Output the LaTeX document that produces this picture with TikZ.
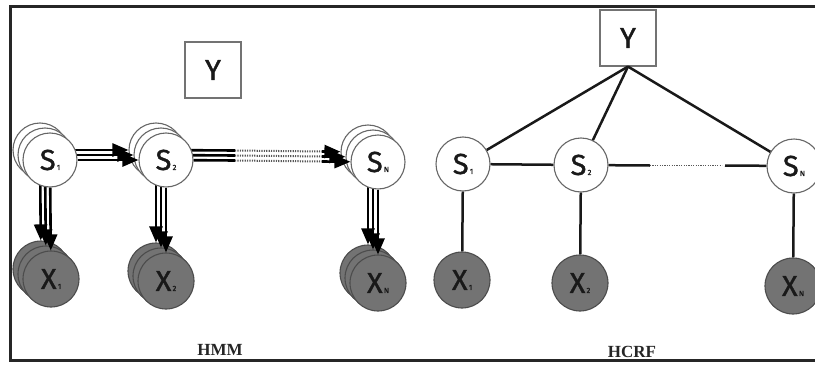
\documentclass[tikz,border=0pt]{standalone}
\usepackage{fontspec}
\setmainfont{Liberation Serif}
\newfontfamily\nf[FakeBold=1.2]{Fira Sans}
\usetikzlibrary{arrows.meta}
\newcommand\lbl[2]{#1{\fontsize{7.5}{7.5}\selectfont\,#2}}
\begin{document}
\begin{tikzpicture}[x=1pt,y=-1pt,
  snode/.style={circle, draw=black!60, line width=1.1pt, fill=white, minimum size=54pt, inner sep=0pt, font=\nf\fontsize{29}{29}\selectfont, text=black!90},
  xnode/.style={circle, draw=black!70, line width=1.1pt, fill=black!55, minimum size=56pt, inner sep=0pt, font=\nf\fontsize{29}{29}\selectfont, text=black!90},
  ybox/.style={draw=black!55, line width=1.1pt, fill=white, minimum width=56pt, minimum height=56pt, inner sep=0pt, font=\nf\fontsize{29}{29}\selectfont, text=black!90},
  arr/.style={line width=2.6pt, draw=black, -{Triangle[length=16pt,width=13pt]}},
  seg/.style={line width=2.6pt, draw=black},
  dots/.style={line width=2pt, draw=black!65, dash pattern=on 1.2pt off 1.2pt},
  link/.style={line width=2.5pt, draw=black!90},
  captext/.style={font=\fontsize{17}{17}\selectfont\bfseries, text=black!85}]
\useasboundingbox (0,0) rectangle (815,367);
\clip (0,0) rectangle (815,367);
\fill[white] (0,0) rectangle (815,367);
% frame
\draw[line width=3pt, black!85] (816,6) -- (10,6) -- (10,360) -- (816,360);

% ---------- HMM ----------
\node[ybox] (hy) at (213,70) {Y};
\foreach \k/\d in {2/10,1/5,0/0}{
  \ifnum\k=0
    \node[snode] (hs1-\k) at ({50-\d},{160-\d}) {\lbl{S}{1}};
    \node[snode] (hs2-\k) at ({166-\d},{160-\d}) {\lbl{S}{2}};
    \node[snode] (hsn-\k) at ({378-\d},{162-\d}) {\lbl{S}{N}};
    \node[xnode] (hx1-\k) at ({51-\d},{279-\d}) {\lbl{X}{1}};
    \node[xnode] (hx2-\k) at ({166-\d},{281-\d}) {\lbl{X}{2}};
    \node[xnode] (hxn-\k) at ({378-\d},{283-\d}) {\lbl{X}{N}};
  \else
    \node[snode] (hs1-\k) at ({50-\d},{160-\d}) {};
    \node[snode] (hs2-\k) at ({166-\d},{160-\d}) {};
    \node[snode] (hsn-\k) at ({378-\d},{162-\d}) {};
    \node[xnode] (hx1-\k) at ({51-\d},{279-\d}) {};
    \node[xnode] (hx2-\k) at ({166-\d},{281-\d}) {};
    \node[xnode] (hxn-\k) at ({378-\d},{283-\d}) {};
  \fi
  \coordinate (ha-\k) at (235,{160.5-\d});
  \coordinate (hb-\k) at (322,{161.5-\d});
  \draw[arr] (hs1-\k) -- (hs2-\k);
  \draw[seg] (hs2-\k) -- (ha-\k);
  \draw[dots] (ha-\k) -- (hb-\k);
  \draw[arr] (hb-\k) -- (hsn-\k);
  \draw[arr] (hs1-\k) -- (hx1-\k);
  \draw[arr] (hs2-\k) -- (hx2-\k);
  \draw[arr] (hsn-\k) -- (hxn-\k);
}
\node[captext] (hmm) at (220,350) {HMM};

% ---------- HCRF ----------
\node[ybox] (cy) at (628,38) {Y};
\node[snode] (cs1) at (463,164) {\lbl{S}{1}};
\node[snode] (cs2) at (581,165) {\lbl{S}{2}};
\node[snode] (csn) at (794,166) {\lbl{S}{N}};
\node[xnode] (cx1) at (462,280) {\lbl{X}{1}};
\node[xnode] (cx2) at (580,283) {\lbl{X}{2}};
\node[xnode] (cxn) at (793,286) {\lbl{X}{N}};
\coordinate (ca) at (650,165.5);
\coordinate (cb) at (722,165.5);
\coordinate (cc) at (725,165.5);
\draw[link] (cy.south) -- (cs1);
\draw[link] (cy.south) -- (cs2);
\draw[link] (cy.south) -- (csn);
\draw[link] (cs1) -- (cs2);
\draw[link] (cs2) -- (ca);
\draw[dots, line width=1.8pt] (ca) -- (cb);
\draw[link] (cc) -- (csn);
\draw[link] (cs1) -- (cx1);
\draw[link] (cs2) -- (cx2);
\draw[link] (csn) -- (cxn);
\node[captext] (hcrf) at (632,352) {HCRF};
\end{tikzpicture}
\end{document}
